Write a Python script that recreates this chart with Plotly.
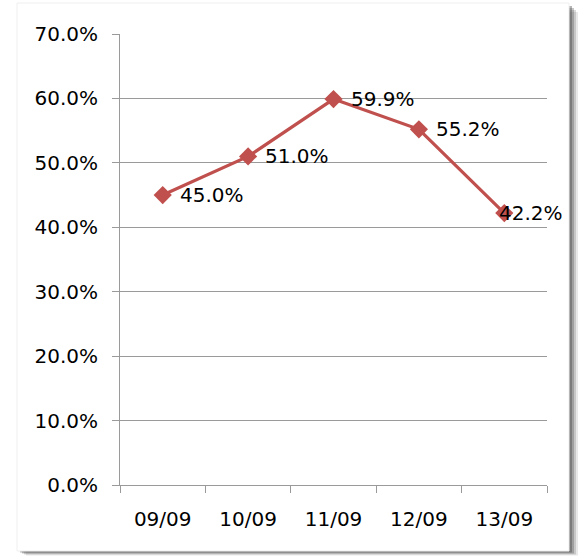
import plotly.graph_objects as go

# Daily rate, percent
dates = ["09/09", "10/09", "11/09", "12/09", "13/09"]
rates = [45.0, 51.0, 59.9, 55.2, 42.2]
y_ticks = [0, 10, 20, 30, 40, 50, 60, 70]
y_tick_text = [f"{v:.1f}%" for v in y_ticks]

LINE = "#C0504D"
GRID = "#9A9A9A"
FONT = dict(family="DejaVu Sans", size=20, color="#000000")

fig = go.Figure()
fig.add_trace(go.Scatter(
    x=dates, y=rates, mode="lines+markers",
    line=dict(color=LINE, width=3.2),
    marker=dict(symbol="diamond", size=14, color=LINE),
    cliponaxis=False, hoverinfo="skip",
))

# value labels next to each point; the last one is pulled back inside the frame
shifts = [15, 15, 15, 15, -7]
for d, v, s in zip(dates, rates, shifts):
    fig.add_annotation(x=d, y=v, text=f"{v:.1f}%", showarrow=False,
                       xanchor="left", yanchor="middle", xshift=s,
                       font=FONT)

# frame with a soft drop shadow
L, R, T, B = 120, 547, 34, 485
W, H = R - L, B - T
def px(x):
    return (x - L) / W
def py(y):
    return (B - y) / H

shapes = []
for i, op in enumerate([0.12, 0.2, 0.3, 0.4]):
    off = 9 - 2 * i
    shapes.append(dict(type="rect", xref="paper", yref="paper",
                       x0=px(17 + off), x1=px(569 + off),
                       y0=py(551 + off * 0.5), y1=py(3 + off),
                       fillcolor=f"rgba(70,70,70,{op})", line=dict(width=0),
                       layer="below"))
shapes.append(dict(type="rect", xref="paper", yref="paper",
                   x0=px(17), x1=px(569), y0=py(551), y1=py(3),
                   fillcolor="white", line=dict(color="#EFEFEF", width=1),
                   layer="below"))

fig.update_layout(
    width=578, height=556,
    margin=dict(l=L, r=578 - R, t=T, b=556 - B),
    paper_bgcolor="white", plot_bgcolor="rgba(0,0,0,0)",
    showlegend=False, font=FONT, shapes=shapes,
    xaxis=dict(type="category", range=[-0.5, 4.5], tickson="boundaries",
               ticks="outside", ticklen=7, tickcolor=GRID,
               showline=True, linecolor=GRID, linewidth=1,
               showgrid=False, zeroline=False, tickfont=FONT,
               ticklabelstandoff=16),
    yaxis=dict(range=[0, 70], tickvals=y_ticks, ticktext=y_tick_text,
               ticks="outside", ticklen=7, tickcolor=GRID,
               showline=True, linecolor=GRID, linewidth=1,
               showgrid=True, gridcolor=GRID, gridwidth=1,
               zeroline=False, tickfont=FONT, ticklabelstandoff=10),
)

fig.write_html("out.html")
